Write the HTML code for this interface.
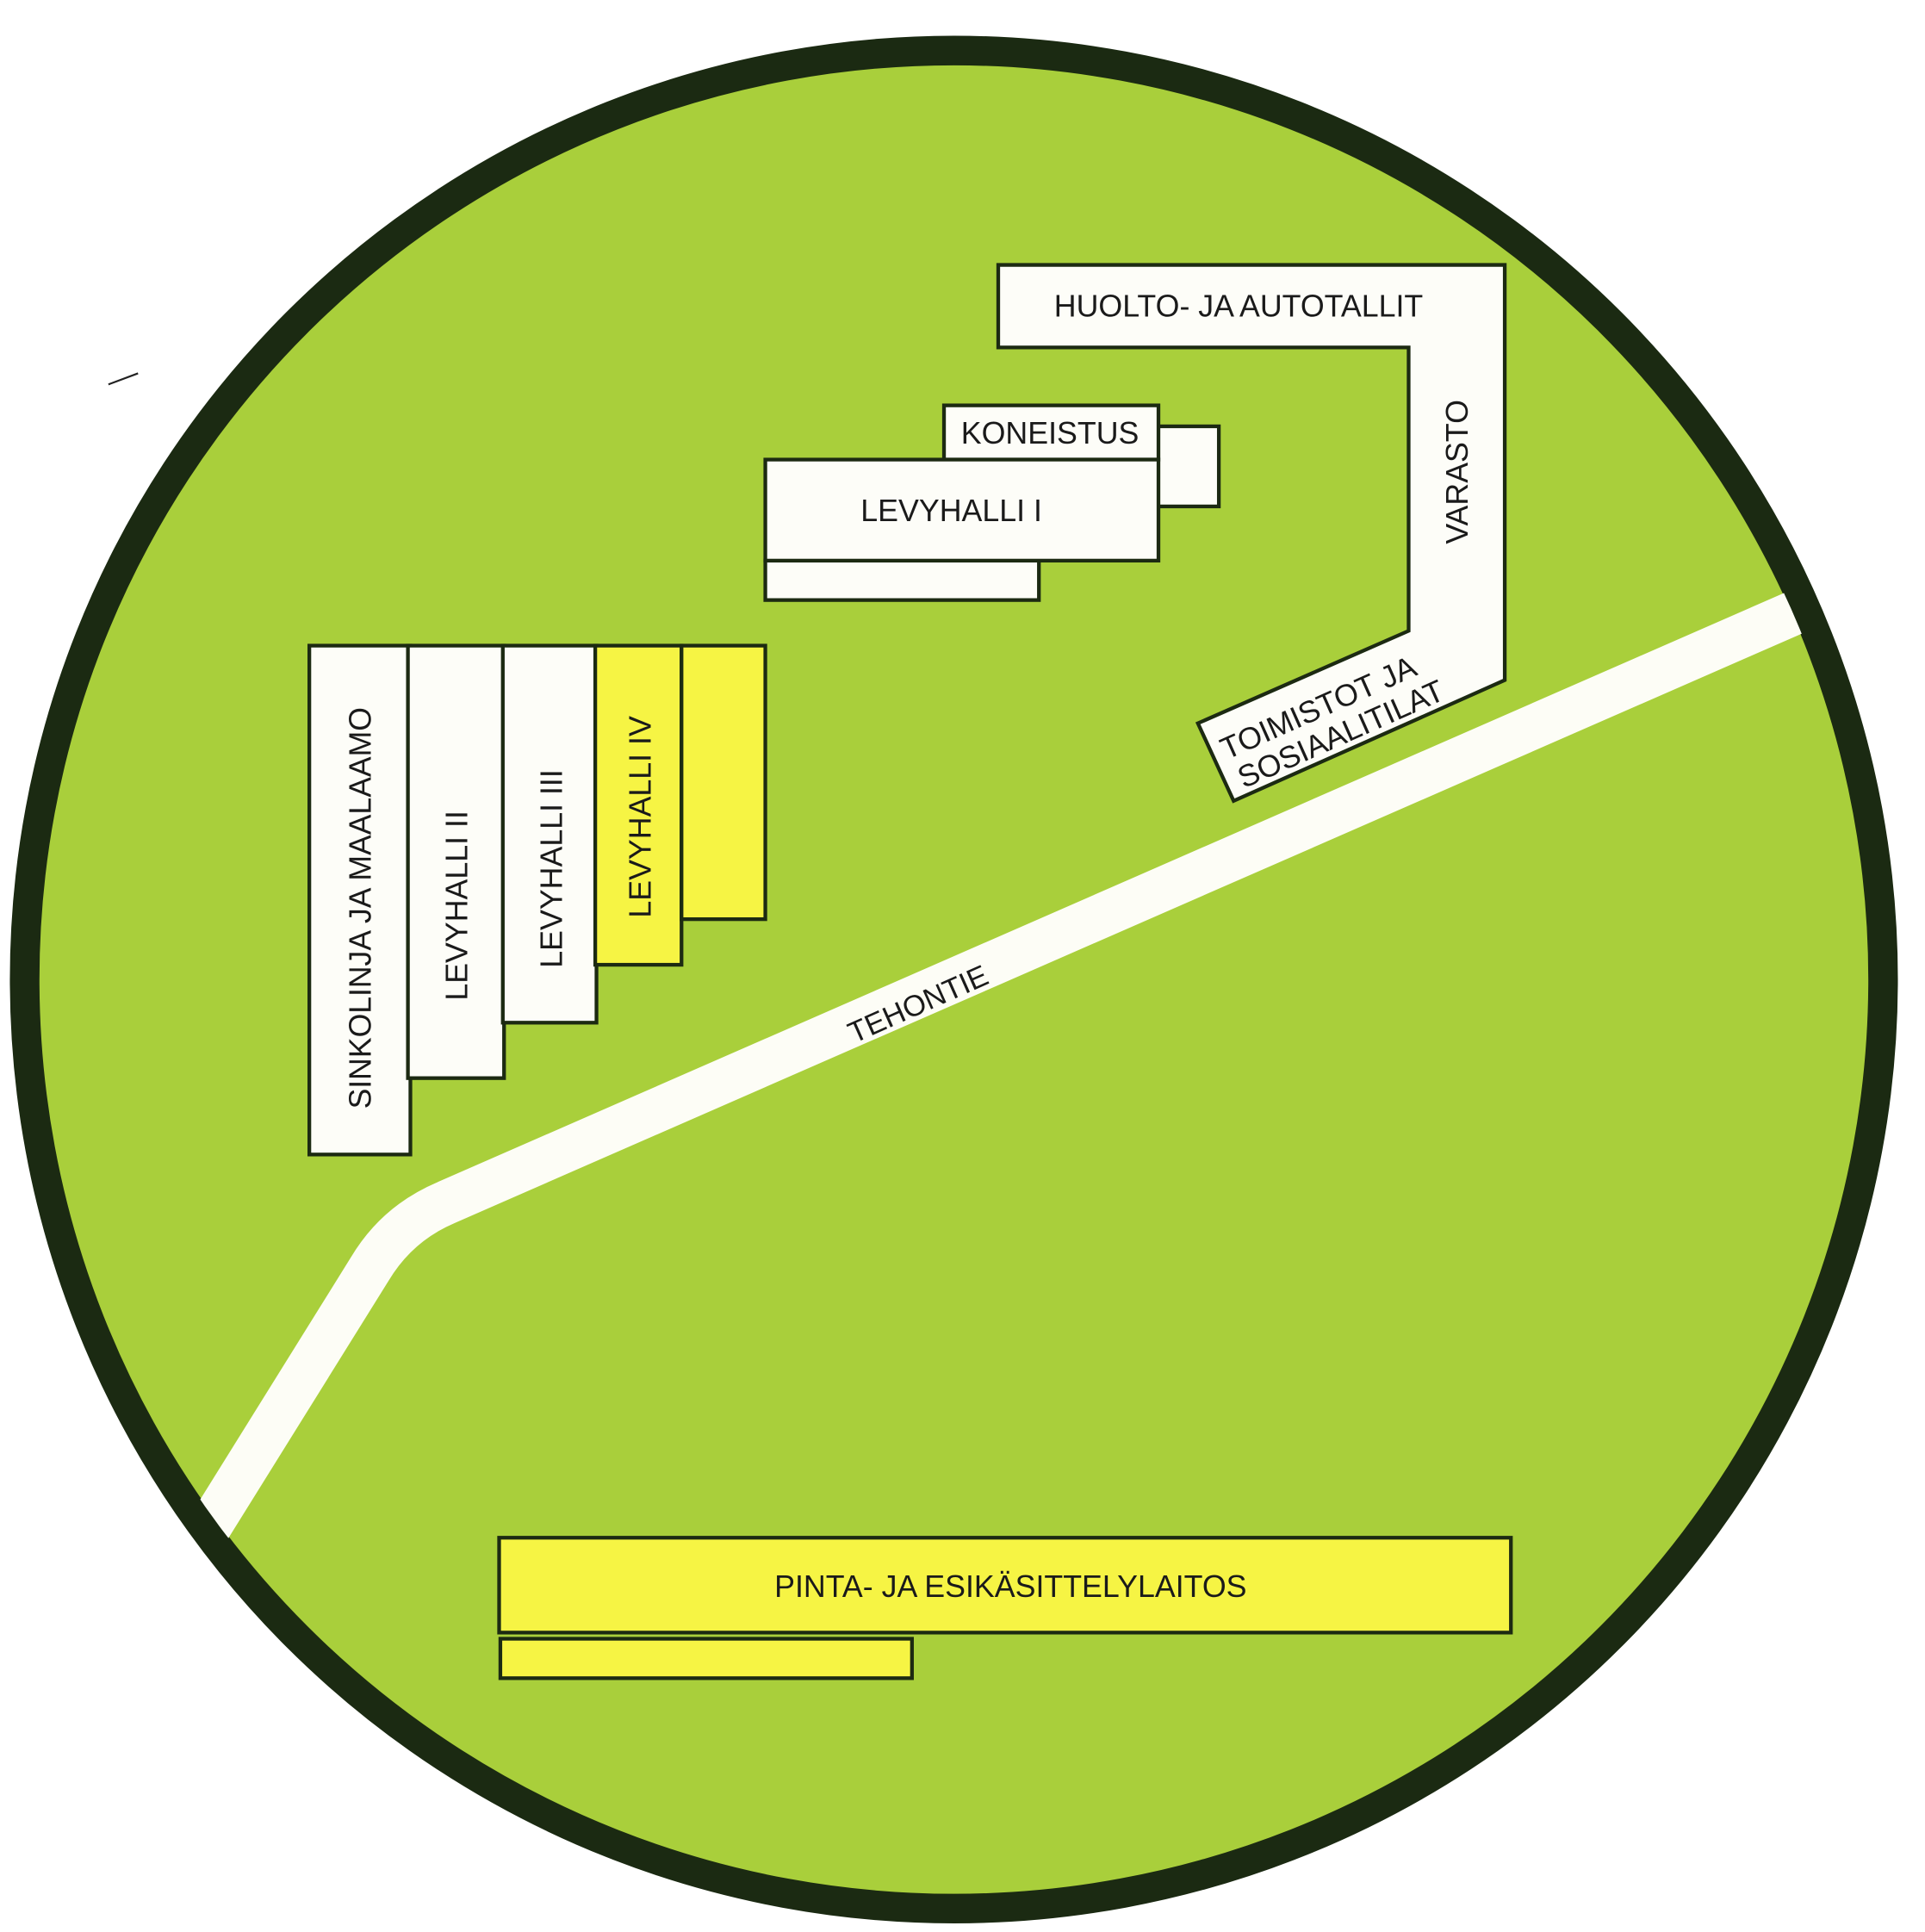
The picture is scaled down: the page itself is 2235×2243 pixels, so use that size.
<!DOCTYPE html>
<html><head><meta charset="utf-8"><style>
html,body{margin:0;padding:0;background:#fff}
svg{display:block}
text{font-family:"Liberation Sans",sans-serif;fill:#1a1a1a}
</style></head><body>
<svg width="2235" height="2243" viewBox="0 0 1562 1568" preserveAspectRatio="none" xmlns="http://www.w3.org/2000/svg">
<defs><clipPath id="c"><circle cx="774" cy="795" r="743"/></clipPath></defs>
<rect width="1562" height="1568" fill="#fff"/>
<circle cx="774" cy="795" r="754" fill="#a9cf3b" stroke="#1b2a12" stroke-width="24"/>
<path d="M160 1255 L300 1030 Q322 993 362 976 L1500 478" fill="none" stroke="#fdfdf6" stroke-width="36" clip-path="url(#c)"/>
<text x="745" y="823" font-size="24" text-anchor="middle" transform="rotate(-24 745 815)">TEHONTIE</text>
<line x1="88" y1="312" x2="112" y2="303" stroke="#222" stroke-width="1.5"/>
<g stroke="#1c2a12" stroke-width="3">
<rect x="251" y="524" width="82" height="413" fill="#fdfdf8"/>
<rect x="331" y="524" width="78" height="351" fill="#fdfdf8"/>
<rect x="408" y="524" width="76" height="306" fill="#fdfdf8"/>
<rect x="483" y="524" width="70" height="259" fill="#f6f444"/>
<rect x="553" y="524" width="68" height="222" fill="#f6f444"/>
<polygon points="810,215 1221,215 1221,552 1001,650 972,587 1143,512 1143,282 810,282" fill="#fdfdf8"/>
<rect x="938" y="346" width="51" height="65" fill="#fdfdf8"/>
<rect x="766" y="329" width="174" height="44" fill="#fdfdf8"/>
<rect x="621" y="455" width="222" height="32" fill="#fdfdf8"/>
<rect x="621" y="373" width="319" height="82" fill="#fdfdf8"/>
<rect x="405" y="1248" width="821" height="77" fill="#f6f444"/>
<rect x="406" y="1330" width="334" height="32" fill="#f6f444"/>
</g>
<g font-size="25" text-anchor="middle">
<text transform="translate(301 737) rotate(-90)" textLength="326" lengthAdjust="spacingAndGlyphs">SINKOLINJA JA MAALAAMO</text>
<text transform="translate(379 735) rotate(-90)">LEVYHALLI II</text>
<text transform="translate(456 705) rotate(-90)">LEVYHALLI III</text>
<text transform="translate(528 663) rotate(-90)">LEVYHALLI IV</text>
<text x="1005" y="257">HUOLTO- JA AUTOTALLIT</text>
<text transform="translate(1191 383) rotate(-90)">VARASTO</text>
<text x="852" y="360">KONEISTUS</text>
<text x="772" y="423">LEVYHALLI I</text>
<text x="820" y="1296">PINTA- JA ESIKÄSITTELYLAITOS</text>
<g transform="rotate(-24 1080 590)" font-size="25">
<text x="1077" y="580">TOIMISTOT JA</text>
<text x="1085" y="607">SOSIAALITILAT</text>
</g>
</g>
</svg>
</body></html>
